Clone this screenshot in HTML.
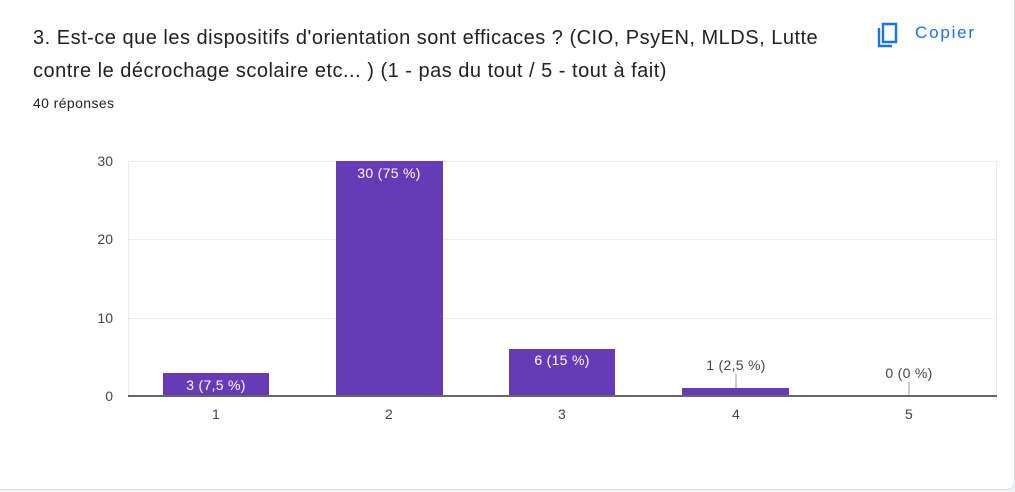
<!DOCTYPE html>
<html><head><meta charset="utf-8"><style>
body{margin:0;width:1015px;height:492px;background:#f1f3f4;font-family:"Liberation Sans",Arial,sans-serif;overflow:hidden;position:relative}
.card{position:absolute;left:-10px;top:-10px;width:1023px;height:498px;background:#fff;border-radius:8px;border:1px solid #dadce0}
.t{position:absolute;left:33px;top:22px;font-size:20px;letter-spacing:0.5px;line-height:33px;color:#202124;width:840px;white-space:nowrap}
.r{position:absolute;left:33px;top:95px;font-size:14px;letter-spacing:0.4px;color:#202124}
.c{position:absolute;left:915px;top:23px;font-size:17px;letter-spacing:1.8px;color:#1a73e8}
</style></head><body>
<div class="card"></div>
<div class="t">3. Est-ce que les dispositifs d'orientation sont efficaces ? (CIO, PsyEN, MLDS, Lutte<br>contre le décrochage scolaire etc... ) (1 - pas du tout / 5 - tout à fait)</div>
<div class="r">40 réponses</div>
<svg style="position:absolute;left:876px;top:22px" width="24" height="26" viewBox="0 0 24 26"><path d="M7 2h13v18H7z" fill="none" stroke="#1a73e8" stroke-width="2.4"/><path d="M3 6v18h13" fill="none" stroke="#1a73e8" stroke-width="2.4"/></svg>
<div class="c">Copier</div>
<svg style="position:absolute;left:0;top:0" width="1015" height="492" font-family="Liberation Sans,Arial,sans-serif">
<g stroke="#ebebeb" stroke-width="1">
<line x1="128" x2="997" y1="161.5" y2="161.5"/><line x1="128" x2="997" y1="239.5" y2="239.5"/><line x1="128" x2="997" y1="318.5" y2="318.5"/>
<line x1="128.5" x2="128.5" y1="161" y2="396"/><line x1="996.5" x2="996.5" y1="161" y2="396"/>
</g>
<g fill="#673ab7">
<rect x="163" y="373" width="106" height="23"/>
<rect x="336" y="161" width="107" height="235"/>
<rect x="509" y="349" width="106" height="47"/>
<rect x="682" y="388" width="107" height="8"/>
</g>
<line x1="736" x2="736" y1="374" y2="388" stroke="#999"/>
<line x1="909" x2="909" y1="382" y2="396" stroke="#999"/>
<line x1="128" x2="997" y1="396" y2="396" stroke="#666" stroke-width="2"/>
<g font-size="14" fill="#fff" text-anchor="middle" letter-spacing="0.3">
<text x="216" y="390">3 (7,5 %)</text><text x="389" y="178">30 (75 %)</text><text x="562" y="365">6 (15 %)</text>
</g>
<g font-size="14" fill="#444" text-anchor="middle" letter-spacing="0.3">
<text x="736" y="370">1 (2,5 %)</text><text x="909" y="378">0 (0 %)</text>
<text x="216" y="419">1</text><text x="389" y="419">2</text><text x="562" y="419">3</text><text x="736" y="419">4</text><text x="909" y="419">5</text>
</g>
<g font-size="14" fill="#444" text-anchor="end">
<text x="113" y="166">30</text><text x="113" y="244">20</text><text x="113" y="323">10</text><text x="113" y="401">0</text>
</g>
</svg>
</body></html>
